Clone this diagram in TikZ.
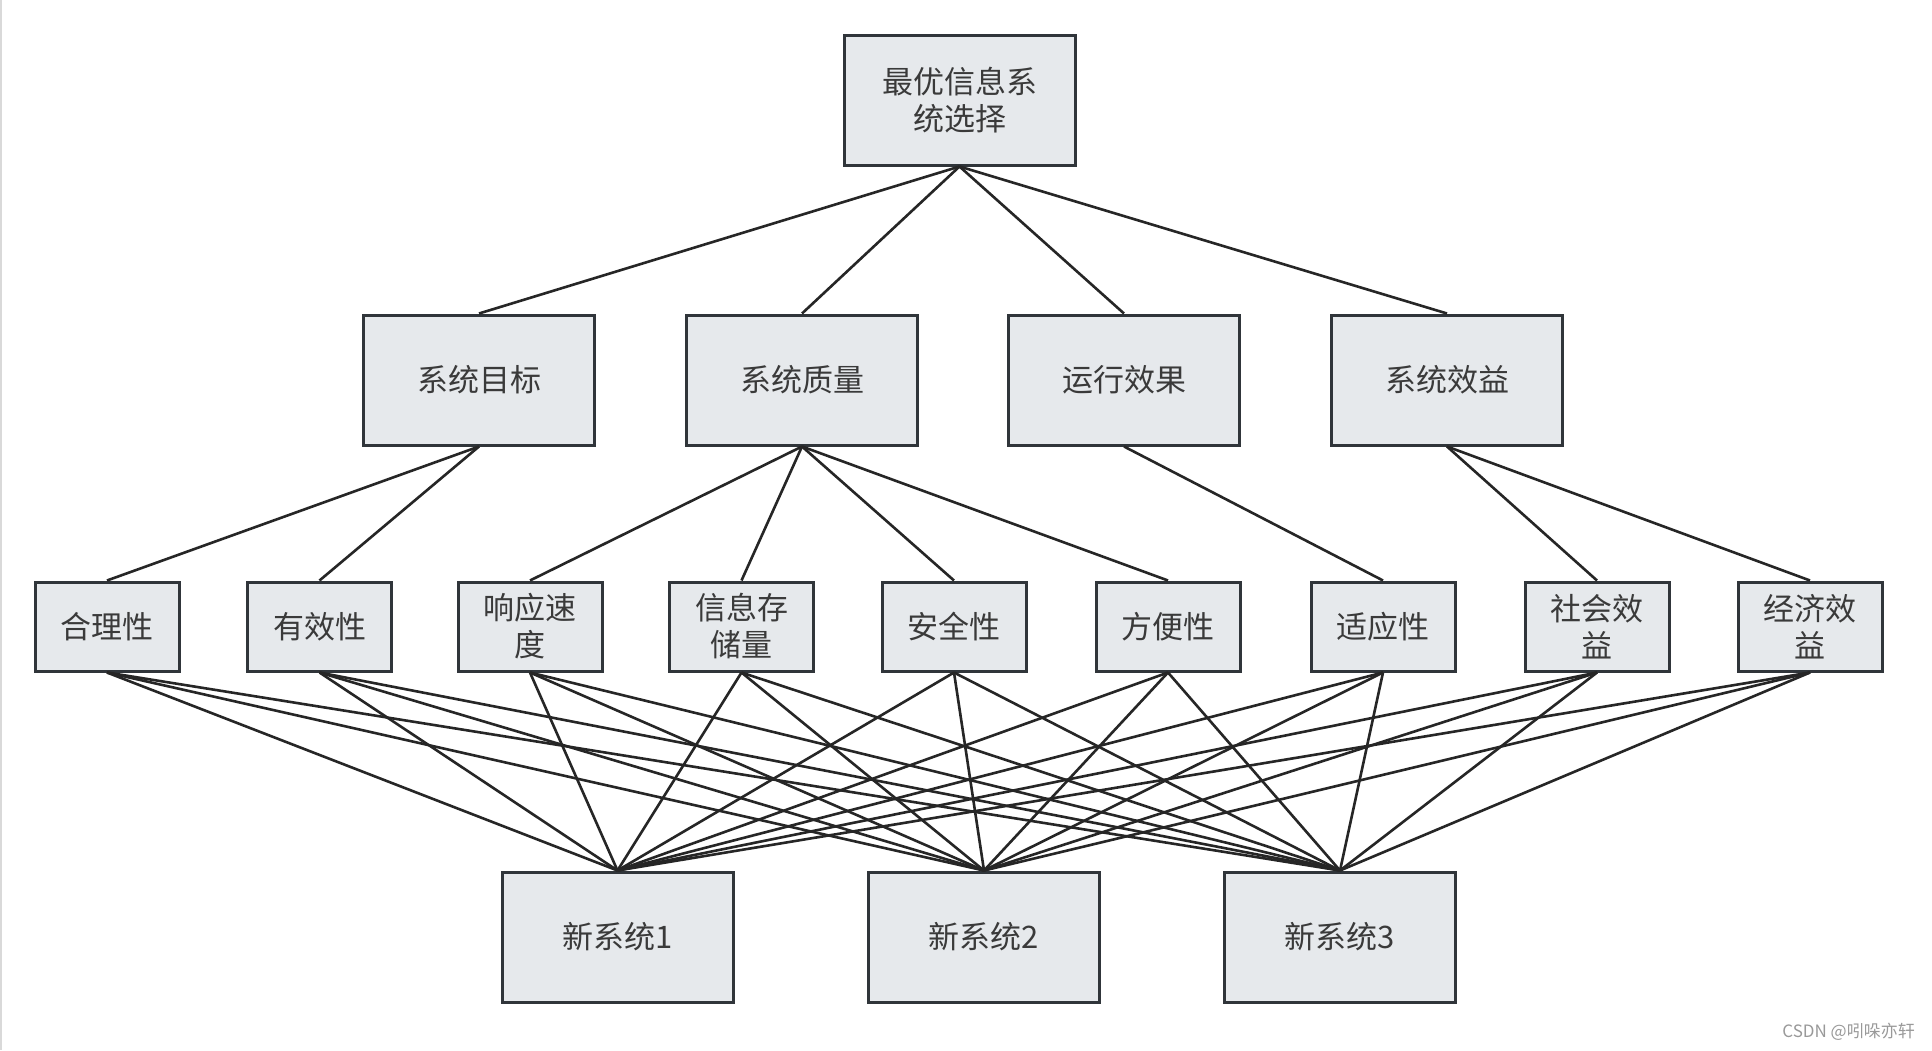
\documentclass[tikz,border=0pt]{standalone}
\usepackage{fontspec}
\setmainfont{Noto Sans CJK SC}
\definecolor{boxfill}{HTML}{E6E9EC}
\definecolor{boxline}{HTML}{30353A}
\definecolor{txt}{HTML}{3A3A3A}
\definecolor{conn}{HTML}{262626}
\begin{document}
\begin{tikzpicture}[x=1pt,y=-1pt,
  box/.style={draw=boxline, fill=boxfill, line width=3pt, inner sep=0pt, align=center,
    text=txt, font=\fontsize{31}{37}\selectfont},
  bigbox/.style={box, minimum width=231pt, minimum height=130pt},
  smallbox/.style={box, minimum width=144pt, minimum height=89pt},
  link/.style={draw=conn, line width=2.6pt}]
\useasboundingbox (0,0) rectangle (1932,1050);
\fill[white] (0,0) rectangle (1932,1050);
\draw[black!15, line width=2pt] (1,0) -- (1,1050);
% nodes
\node[bigbox] (top) at (959.5,100) {最优信息系\\统选择};
\node[bigbox] (b1) at (479,380) {系统目标};
\node[bigbox] (b2) at (802,380) {系统质量};
\node[bigbox] (b3) at (1124,380) {运行效果};
\node[bigbox] (b4) at (1447,380) {系统效益};
\node[smallbox] (c1) at (107,626.5) {合理性};
\node[smallbox] (c2) at (319.5,626.5) {有效性};
\node[smallbox] (c3) at (530,626.5) {响应速\\度};
\node[smallbox] (c4) at (741.5,626.5) {信息存\\储量};
\node[smallbox] (c5) at (954,626.5) {安全性};
\node[smallbox] (c6) at (1168,626.5) {方便性};
\node[smallbox] (c7) at (1383,626.5) {适应性};
\node[smallbox] (c8) at (1597,626.5) {社会效\\益};
\node[smallbox] (c9) at (1810,626.5) {经济效\\益};
\node[bigbox] (d1) at (617.5,937) {新系统1};
\node[bigbox] (d2) at (984,937) {新系统2};
\node[bigbox] (d3) at (1340,937) {新系统3};
% connectors
\foreach \b in {b1,b2,b3,b4} \draw[link] (top.south) -- (\b.north);
\draw[link] (b1.south) -- (c1.north);
\draw[link] (b1.south) -- (c2.north);
\foreach \c in {c3,c4,c5,c6} \draw[link] (b2.south) -- (\c.north);
\draw[link] (b3.south) -- (c7.north);
\draw[link] (b4.south) -- (c8.north);
\draw[link] (b4.south) -- (c9.north);
\foreach \c in {c1,c2,c3,c4,c5,c6,c7,c8,c9}
  \foreach \d in {d1,d2,d3}
    \draw[link] (\c.south) -- (\d.north);
% watermark
\node[text=black!40, font=\fontsize{17}{19}\selectfont, inner sep=0pt, anchor=east] (wm) at (1915,1032) {CSDN @吲哚亦轩};
\end{tikzpicture}
\end{document}
